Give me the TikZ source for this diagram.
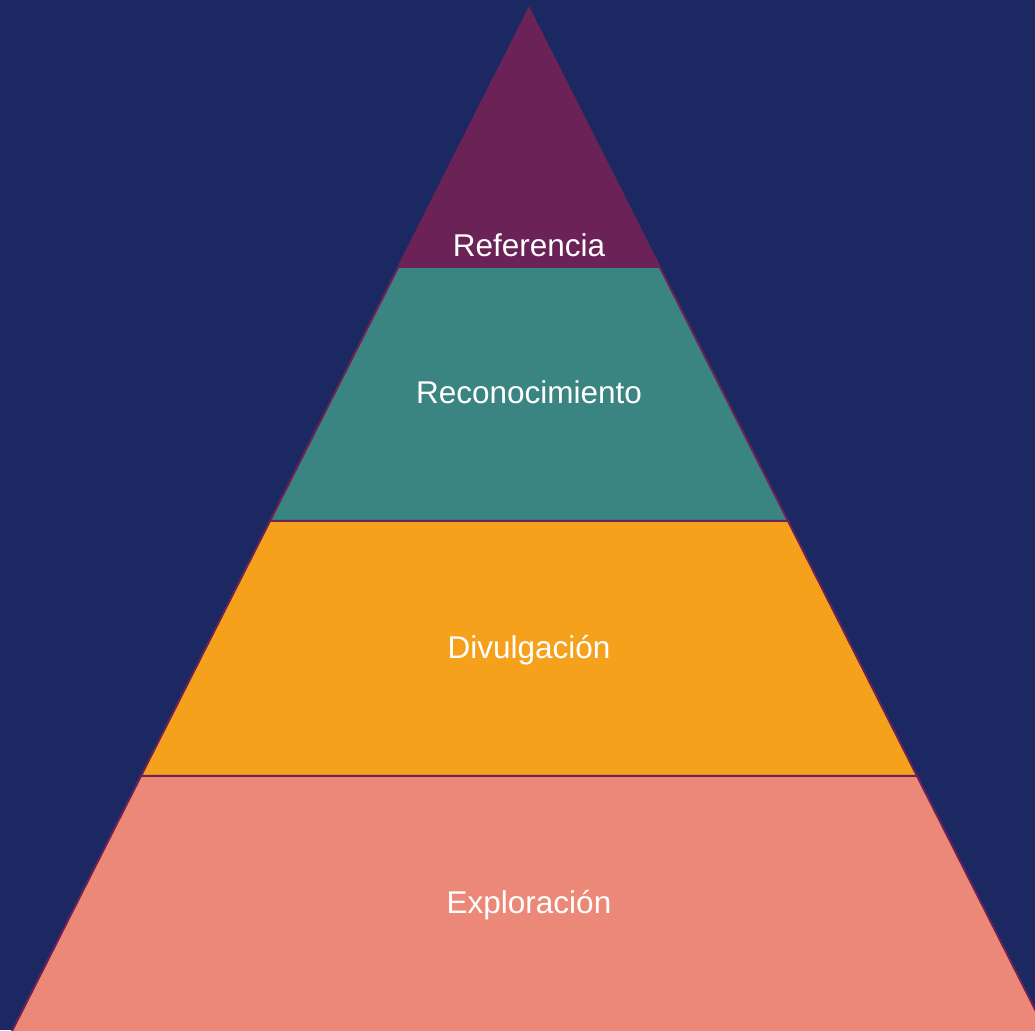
\documentclass[tikz,border=0pt]{standalone}
\usepackage{fontspec}
\setmainfont{Liberation Sans}
\definecolor{bgnavy}{HTML}{1B2862}
\definecolor{toppurple}{HTML}{6A2257}
\definecolor{tealc}{HTML}{3A8482}
\definecolor{orangec}{HTML}{F5A11C}
\definecolor{salmonc}{HTML}{EC8877}
\begin{document}
\begin{tikzpicture}[x=1pt,y=1pt,
  layer/.style={draw=toppurple,line width=2pt,line join=miter},
  lbl/.style={text=white,font=\fontsize{31.5}{36}\selectfont,inner sep=0pt,anchor=base}]
\useasboundingbox (0,0) rectangle (1035,1030);
\fill[bgnavy] (0,0) rectangle (1035,1030);
\clip (0,0) rectangle (1035,1030);
% coordinates: y = 1030 - ypx
\coordinate (apex) at (529,1021.5);
\coordinate (l1) at (398.3,763); \coordinate (r1) at (659.7,763);
\coordinate (l2) at (270,509);   \coordinate (r2) at (788,509);
\coordinate (l3) at (141,254);   \coordinate (r3) at (917,254);
\coordinate (l4) at (7.5,-10);   \coordinate (r4) at (1050.5,-10);
\path[layer,fill=salmonc] (l3) -- (r3) -- (r4) -- (l4) -- cycle;
\path[layer,fill=orangec] (l2) -- (r2) -- (r3) -- (l3) -- cycle;
\path[layer,fill=tealc] (l1) -- (r1) -- (r2) -- (l2) -- cycle;
\path[layer,fill=toppurple] (apex) -- (r1) -- (l1) -- cycle;
\node[lbl] (t1) at (529,773) {Referencia};
\node[lbl] (t2) at (529,626) {Reconocimiento};
\node[lbl] (t3) at (529,371) {Divulgación};
\node[lbl] (t4) at (529,116) {Exploración};
\end{tikzpicture}
\end{document}
